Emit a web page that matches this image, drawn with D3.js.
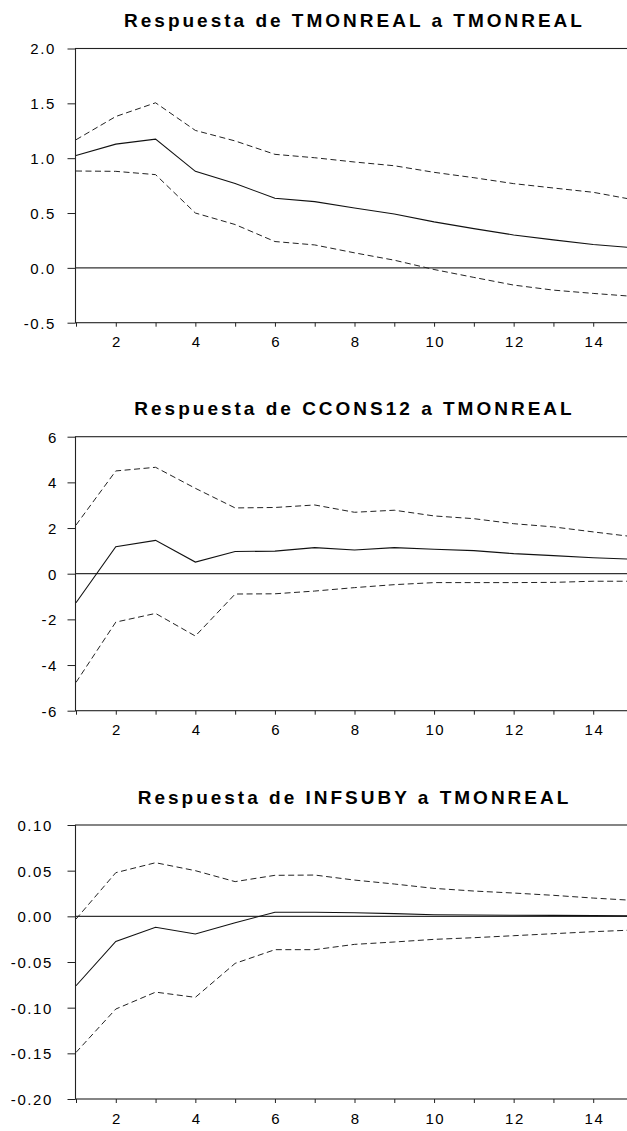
<!DOCTYPE html>
<html lang="es">

<head>
  <meta charset="UTF-8">
  <title>Respuestas a TMONREAL</title>
  <style>
    body {
      margin: 0;
      background: #fff;
    }

    text {
      font-family: "Liberation Sans", Arial, sans-serif;
      fill: #000;
    }

    .title {
      font-size: 19px;
      font-weight: bold;
      letter-spacing: 3px;
    }

    .axis text {
      font-size: 15px;
      letter-spacing: 1.6px;
    }

    .axis line {
      stroke: #222;
    }
  </style>
</head>

<body>
  <script src="https://d3js.org/d3.v7.min.js"></script>
  <div id="chart"></div>

  <script>
    // periods of the impulse response
    var periods = [1, 2, 3, 4, 5, 6, 7, 8, 9, 10, 11, 12, 13, 14, 15]

    // Respuesta de TMONREAL a TMONREAL
    var tmonResp = [1.025, 1.128, 1.174, 0.880, 0.770, 0.634, 0.604, 0.546, 0.491, 0.419, 0.358, 0.300, 0.255, 0.213, 0.184]
    var tmonUp = [1.168, 1.380, 1.505, 1.253, 1.157, 1.035, 1.004, 0.965, 0.931, 0.871, 0.822, 0.768, 0.728, 0.689, 0.622]
    var tmonLo = [0.883, 0.880, 0.850, 0.500, 0.395, 0.240, 0.209, 0.137, 0.070, -0.015, -0.087, -0.157, -0.203, -0.233, -0.260]

    // Respuesta de CCONS12 a TMONREAL
    var cconsResp = [-1.27, 1.18, 1.46, 0.51, 0.97, 0.99, 1.14, 1.04, 1.14, 1.07, 1.01, 0.88, 0.79, 0.70, 0.63]
    var cconsUp = [2.13, 4.50, 4.66, 3.74, 2.88, 2.90, 3.01, 2.69, 2.78, 2.53, 2.41, 2.19, 2.05, 1.83, 1.62]
    var cconsLo = [-4.76, -2.12, -1.74, -2.73, -0.89, -0.88, -0.76, -0.61, -0.48, -0.39, -0.39, -0.39, -0.38, -0.33, -0.33]

    // Respuesta de INFSUBY a TMONREAL
    var infResp = [-0.076, -0.0274, -0.012, -0.0194, -0.007, 0.0044, 0.0044, 0.004, 0.003, 0.0018, 0.0015, 0.0012, 0.001, 0.0008, 0.0005]
    var infUp = [-0.003, 0.0478, 0.0587, 0.050, 0.038, 0.0449, 0.0452, 0.0397, 0.0354, 0.0306, 0.0277, 0.0255, 0.023, 0.020, 0.0175]
    var infLo = [-0.149, -0.1015, -0.083, -0.0887, -0.0515, -0.0365, -0.0365, -0.0307, -0.0281, -0.0252, -0.0234, -0.0212, -0.019, -0.0168, -0.015]

    // titles and y tick labels
    var titles = ["Respuesta de TMONREAL a TMONREAL", "Respuesta de CCONS12 a TMONREAL", "Respuesta de INFSUBY a TMONREAL"]
    var tmonTicks = [-0.5, 0.0, 0.5, 1.0, 1.5, 2.0]
    var cconsTicks = [-6, -4, -2, 0, 2, 4, 6]
    var infTicks = [-0.20, -0.15, -0.10, -0.05, 0.00, 0.05, 0.10]
    var xLabels = [2, 4, 6, 8, 10, 12, 14]

    // d3.format writes a unicode minus, the original uses a plain hyphen
    function fmt(spec) {
      var f = d3.format(spec)
      return function (d) { return f(d).replace("\u2212", "-") }
    }

    // one entry per panel, built from the arrays above
    var panels = [
      { title: titles[0], resp: tmonResp, up: tmonUp, lo: tmonLo, ticks: tmonTicks, fmt: fmt(".1f") },
      { title: titles[1], resp: cconsResp, up: cconsUp, lo: cconsLo, ticks: cconsTicks, fmt: fmt("d") },
      { title: titles[2], resp: infResp, up: infUp, lo: infLo, ticks: infTicks, fmt: fmt(".2f") }
    ]

    // layout of each panel (pixels)
    var layout = [
      { top: 48.5, bottom: 322.7, labelEnd: 56 },
      { top: 436.7, bottom: 710.7, labelEnd: 58 },
      { top: 825, bottom: 1099, labelEnd: 53 }
    ]

    var width = 627, height = 1131
    var left = 75.5, right = 633.5

    var svg = d3.select("#chart")
      .append("svg")
      .attr("width", width)
      .attr("height", height)

    // x scale shared by the three panels
    var x = d3.scaleLinear()
      .domain([1, 15])
      .range([76, 633])

    panels.forEach(function (p, i) {
      var L = layout[i]
      var y = d3.scaleLinear()
        .domain(d3.extent(p.ticks))
        .range([L.bottom, L.top])

      var g = svg.append("g")

      // title centred over the plot area
      g.append("text")
        .attr("class", "title")
        .attr("x", (left + right) / 2)
        .attr("y", L.top - 21.5)
        .attr("text-anchor", "middle")
        .text(p.title)

      // frame
      g.append("rect")
        .attr("x", left)
        .attr("y", L.top)
        .attr("width", right - left)
        .attr("height", L.bottom - L.top)
        .style("fill", "none")
        .style("stroke", "#222")
        .style("stroke-width", 1.1)

      // y axis
      var yAxis = g.append("g")
        .attr("class", "axis")
        .attr("transform", "translate(" + left + ",0)")
        .call(d3.axisLeft(y).tickValues(p.ticks).tickFormat(p.fmt).tickSize(8).tickSizeOuter(0).tickPadding(left - 8 - L.labelEnd))
      yAxis.select(".domain").remove()
      yAxis.selectAll("text").attr("dy", "0.36em")

      // x axis: a tick at every period, labels on even ones
      var xAxis = g.append("g")
        .attr("class", "axis")
        .attr("transform", "translate(0," + L.bottom + ")")
        .call(d3.axisBottom(x).tickValues(periods).tickSize(4).tickSizeOuter(0).tickPadding(10)
          .tickFormat(function (d) { return xLabels.indexOf(d) >= 0 ? d : "" }))
      xAxis.select(".domain").remove()
      xAxis.selectAll("text").attr("dy", "0.71em").attr("dx", "0.8px")

      // zero line
      g.append("line")
        .attr("x1", left)
        .attr("x2", right)
        .attr("y1", y(0))
        .attr("y2", y(0))
        .style("stroke", "#333")
        .style("stroke-width", 1.3)

      var line = d3.line()
        .x(function (d, k) { return x(periods[k]) })
        .y(function (d) { return y(d) })

      // confidence bands (dashed)
      ;[p.up, p.lo].forEach(function (band) {
        g.append("path")
          .datum(band)
          .attr("d", line)
          .style("fill", "none")
          .style("stroke", "#222")
          .style("stroke-width", 1)
          .style("stroke-dasharray", "6,3.5")
      })

      // response (solid)
      g.append("path")
        .datum(p.resp)
        .attr("d", line)
        .style("fill", "none")
        .style("stroke", "#111")
        .style("stroke-width", 1.1)
    })
  </script>
</body>

</html>
